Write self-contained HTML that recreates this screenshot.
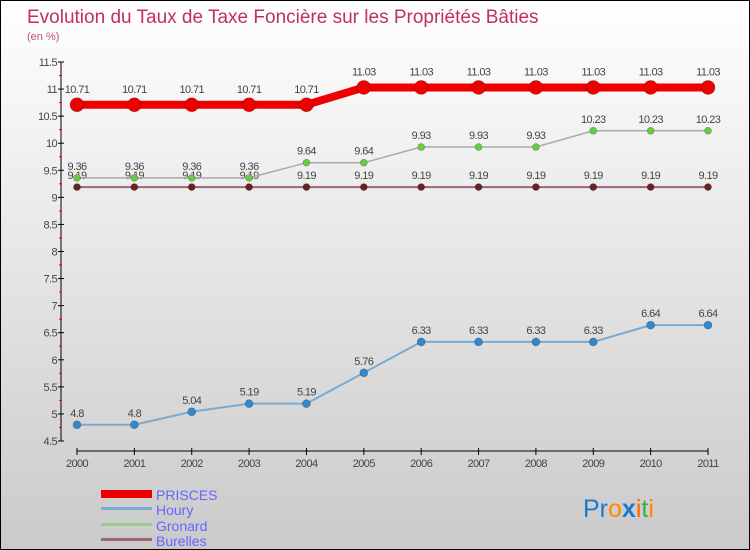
<!DOCTYPE html>
<html><head><meta charset="utf-8"><style>
body{margin:0}
#c{position:relative;width:750px;height:550px;background:linear-gradient(#fff,#cacaca);border:1px solid #000;box-sizing:border-box;overflow:hidden;font-family:"Liberation Sans",sans-serif}
</style></head><body>
<div id="c">
<svg id="s" width="750" height="550" style="position:absolute;left:0;top:0;font-family:'Liberation Sans',sans-serif">
<text x="26" y="22" font-size="19" fill="#c0305a" font-weight="300">Evolution du Taux de Taxe Foncière sur les Propriétés Bâties</text>
<text x="26" y="39" font-size="11" fill="#c0508a">(en %)</text>
<g id="ax"></g><g id="series"></g>
<g>
<rect x="100" y="489" width="51" height="8" fill="#e00"/>
<text x="155" y="499" font-size="14" fill="#66f">PRISCES</text>
<rect x="100" y="506" width="51" height="3" fill="#7aaad0"/>
<text x="155" y="514" font-size="14" fill="#66f">Houry</text>
<rect x="100" y="522" width="51" height="3" fill="#9c8"/>
<text x="155" y="530" font-size="14" fill="#66f">Gronard</text>
<rect x="100" y="537" width="51" height="3" fill="#967"/>
<text x="155" y="545" font-size="14" fill="#66f">Burelles</text>
</g>
<text x="582" y="516" font-size="25"><tspan fill="#1a7ad0">Pr</tspan><tspan fill="#f80">o</tspan><tspan fill="#1a7ad0" font-weight="bold">x</tspan><tspan fill="#f60">i</tspan><tspan fill="#4a4">t</tspan><tspan fill="#f80">i</tspan></text>
</svg>
</div>
<script>
const years=[2000,2001,2002,2003,2004,2005,2006,2007,2008,2009,2010,2011];
const yTicks=[4.5,5,5.5,6,6.5,7,7.5,8,8.5,9,9.5,10,10.5,11,11.5];
const prisces=[10.71,10.71,10.71,10.71,10.71,11.03,11.03,11.03,11.03,11.03,11.03,11.03];
const houry=[4.8,4.8,5.04,5.19,5.19,5.76,6.33,6.33,6.33,6.33,6.64,6.64];
const gronard=[9.36,9.36,9.36,9.36,9.64,9.64,9.93,9.93,9.93,10.23,10.23,10.23];
const burelles=[9.19,9.19,9.19,9.19,9.19,9.19,9.19,9.19,9.19,9.19,9.19,9.19];
const NS="http://www.w3.org/2000/svg";
const X=i=>76+i*(707-76)/11, Y=v=>61+(11.5-v)*(379/7);
function mk(t,a,p){const e=document.createElementNS(NS,t);for(const k in a)e.setAttribute(k,a[k]);p.appendChild(e);return e;}
const ax=document.getElementById('ax');
let l=mk('line',{x1:60,y1:61,x2:60,y2:440,stroke:'#000'},ax);


l=mk('line',{x1:76,y1:450,x2:707,y2:450,stroke:'#000'},ax);


yTicks.forEach((v,i)=>{
 mk('line',{x1:57,x2:63,y1:Y(v),y2:Y(v),stroke:'#000'},ax);
 if(i<yTicks.length-1)mk('line',{x1:58,x2:61,y1:Y(v+0.25),y2:Y(v+0.25),stroke:'#e00'},ax);
 const t=mk('text',{x:56,y:Y(v)+4,'text-anchor':'end','font-size':11,fill:'#444','letter-spacing':'-0.6'},ax);t.textContent=String(v);
 
 
});
years.forEach((y,i)=>{
 mk('line',{x1:X(i),x2:X(i),y1:447,y2:454,stroke:'#000'},ax);
 const t=mk('text',{x:X(i),y:466,'text-anchor':'middle','font-size':11,fill:'#444','letter-spacing':'-0.6'},ax);t.textContent=y;
 
 
});
const sg=document.getElementById('series');
function draw(vals,name,col,dot,w,r,lab){
 const g=mk('g',{},sg);
 
 
 mk('polyline',{points:vals.map((v,i)=>X(i)+','+Y(v)).join(' '),fill:'none',stroke:col,'stroke-width':w},g);
 vals.forEach((v,i)=>{
  const c=mk('circle',{cx:X(i),cy:Y(v),r:r,fill:dot,stroke:'rgba(0,0,0,0.3)','stroke-width':0.6},g);
  
  
  const t=mk('text',{x:X(i),y:Y(v)-lab,'text-anchor':'middle','font-size':11,fill:'#444','letter-spacing':'-0.6'},g);t.textContent=String(v);
  
  
 });
}
draw(houry,'houry','#7aaad0','#3388cc',2,4,8);
draw(burelles,'burelles','#967','#662222',2,3.5,8);
draw(gronard,'gronard','#aaa','#66cc44',1.5,3.5,8);
draw(prisces,'prisces','#e00','#e00',8,7,12);
</script>
</body></html>
